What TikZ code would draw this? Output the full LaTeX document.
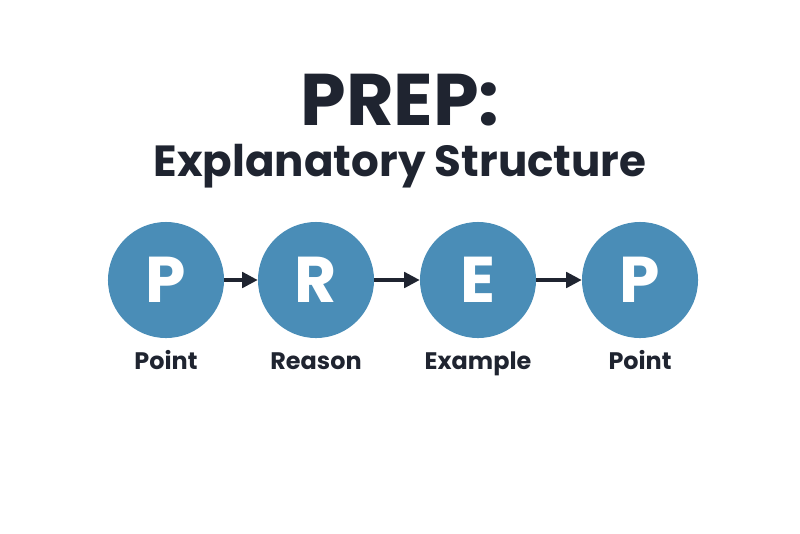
\documentclass[tikz,border=0pt]{standalone}
\usepackage{fontspec}
\setmainfont{Poppins}
\usetikzlibrary{positioning,arrows.meta}
\definecolor{stepblue}{HTML}{4A8DB7}
\definecolor{inkdark}{HTML}{1F2430}
\tikzset{
  stepcircle/.style={circle,fill=stepblue,minimum size=2.9cm,inner sep=0pt,
    text=white,font=\fontsize{46}{46}\selectfont\bfseries},
  steplabel/.style={below=0.4cm of #1,text=inkdark,text depth=0.25em,
    text height=0.75em,font=\fontsize{17}{17}\selectfont\bfseries},
  flow/.style={-{Triangle[length=11pt,width=11pt]},line width=2.4pt,draw=inkdark}
}
\begin{document}
\begin{tikzpicture}[x=0.025cm,y=-0.025cm]
\useasboundingbox (0,0) rectangle (800,533);
\node[text=inkdark,font=\fontsize{52}{52}\selectfont\bfseries] (title) at (400,100) {PREP:};
\node[text=inkdark,font=\fontsize{31}{31}\selectfont\bfseries] (sub) at (400,166) {Explanatory Structure};
\node[stepcircle] (p1) at (166,280) {P};
\node[stepcircle] (r) at (316,280) {R};
\node[stepcircle] (e) at (478,280) {E};
\node[stepcircle] (p2) at (640,280) {P};
\node[steplabel=p1] (l1) {Point};
\node[steplabel=r] (l2) {Reason};
\node[steplabel=e] (l3) {Example};
\node[steplabel=p2] (l4) {Point};
\draw[flow] (p1) -- (r);
\draw[flow] (r) -- (e);
\draw[flow] (e) -- (p2);
\end{tikzpicture}
\end{document}
